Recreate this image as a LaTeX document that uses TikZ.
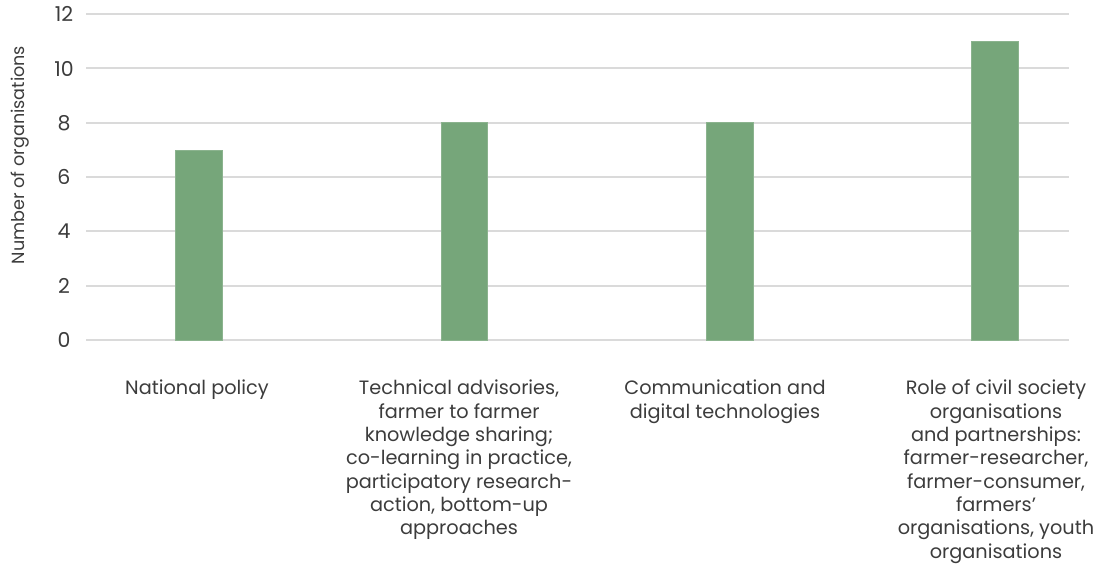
\documentclass[tikz,border=0pt]{standalone}
\usepackage{fontspec}
\setmainfont{Poppins}
\definecolor{txt}{HTML}{3C3C3C}
\definecolor{grid}{HTML}{DADADA}
\definecolor{bar}{HTML}{76A67A}
\begin{document}
\begin{tikzpicture}[x=1pt,y=-1pt,
  gridline/.style={draw=grid,line width=2pt},
  barbox/.style={fill=bar,draw=bar!85!white,line width=0.6pt},
  ticklbl/.style={text=txt,font=\fontsize{20.5}{22}\selectfont,inner sep=0pt,anchor=center},
  catlbl/.style={text=txt,font=\fontsize{19.3}{23.3}\selectfont,align=center,inner sep=0pt,anchor=north},
]
\useasboundingbox (0,0) rectangle (1106,569);
% gridlines and tick labels
\foreach \v in {0,2,...,12}{
  \draw[gridline] (86,{340-27.15*\v}) -- (1069,{340-27.15*\v});
  \node[ticklbl] (t\v) at (64,{340-27.15*\v}) {\v};
}
% axis title
\node[text=txt,font=\fontsize{17.6}{19}\selectfont,rotate=90,inner sep=0pt] (ytitle) at (20,155) {Number of organisations};
% bars
\foreach \c/\v/\n in {199/7/a,464.5/8/b,730/8/c,995/11/d}{
  \path[barbox] (\c-23.25,340) rectangle (\c+23.25,{340-27.15*\v});
}
% category labels
\node[catlbl] (la) at (197,380) {National policy};
\node[catlbl] (lb) at (459,380) {Technical advisories,\\farmer to farmer\\knowledge sharing;\\co-learning in practice,\\participatory research-\\action, bottom-up\\approaches};
\node[catlbl] (lc) at (725,380) {Communication and\\digital technologies};
\node[catlbl] (ld) at (996,380) {Role of civil society\\organisations\\and partnerships:\\farmer-researcher,\\farmer-consumer,\\farmers'\\organisations, youth\\organisations};
\end{tikzpicture}
\end{document}
